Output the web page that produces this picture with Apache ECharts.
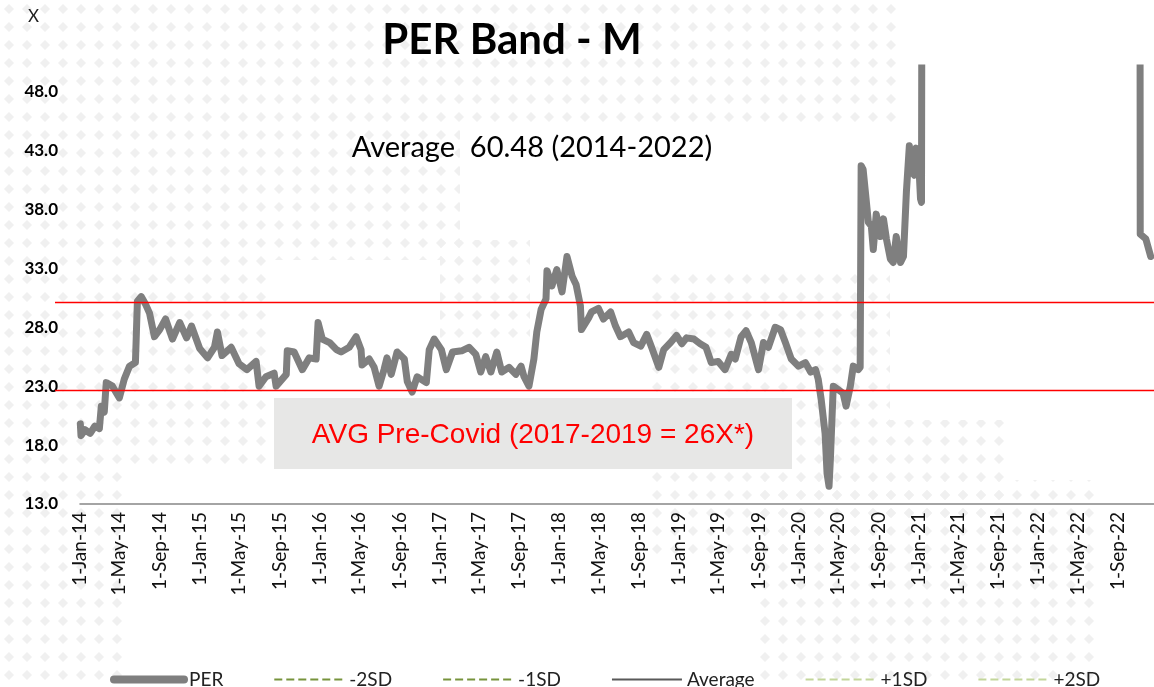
<!DOCTYPE html>
<html>
<head>
<meta charset="utf-8">
<title>PER Band - M</title>
<script src="https://cdn.jsdelivr.net/npm/echarts@6/dist/echarts.min.js"></script>
<style>
  html, body { margin: 0; padding: 0; background: #fff; }
  #chart { width: 1154px; height: 687px; }
</style>
</head>
<body>
<div id="chart"></div>
<script>
// PER daily series
var perDates = [
  '2014-01-02','2014-01-04','2014-01-16','2014-02-01','2014-02-15','2014-03-01','2014-03-07','2014-03-16','2014-03-22','2014-04-10',
  '2014-05-01','2014-05-16','2014-06-01','2014-06-19','2014-06-25','2014-07-07','2014-07-19','2014-08-01','2014-08-16','2014-09-01',
  '2014-09-19','2014-10-10','2014-11-01','2014-11-22','2014-12-07','2015-01-01','2015-01-25','2015-02-15','2015-02-24','2015-03-10',
  '2015-04-07','2015-05-01','2015-05-25','2015-06-22','2015-07-01','2015-07-22','2015-08-16','2015-08-22','2015-09-22','2015-09-25',
  '2015-10-16','2015-11-10','2015-12-01','2015-12-22','2015-12-28','2016-01-10','2016-02-01','2016-02-22','2016-03-07','2016-04-01',
  '2016-04-22','2016-05-07','2016-05-10','2016-06-01','2016-06-16','2016-07-01','2016-07-16','2016-07-25','2016-08-07','2016-08-25',
  '2016-09-16','2016-09-25','2016-10-10','2016-10-25','2016-11-22','2016-12-01','2016-12-16','2017-01-07','2017-01-22','2017-02-10',
  '2017-03-10','2017-04-01','2017-04-22','2017-05-07','2017-05-22','2017-06-07','2017-06-25','2017-07-10','2017-08-01','2017-08-22',
  '2017-09-07','2017-09-16','2017-10-01','2017-10-16','2017-10-25','2017-11-07','2017-11-22','2017-11-25','2017-12-10','2017-12-25',
  '2018-01-10','2018-01-25','2018-02-10','2018-02-22','2018-03-07','2018-03-10','2018-04-01','2018-04-10','2018-05-01','2018-05-16',
  '2018-06-07','2018-06-22','2018-07-07','2018-08-01','2018-08-16','2018-09-07','2018-09-25','2018-10-10','2018-11-01','2018-11-16',
  '2018-12-07','2018-12-25','2019-01-10','2019-01-25','2019-02-16','2019-03-07','2019-03-25','2019-04-10','2019-05-01','2019-05-22',
  '2019-06-10','2019-06-22','2019-07-10','2019-07-25','2019-08-10','2019-09-01','2019-09-16','2019-10-01','2019-10-22','2019-11-07',
  '2019-11-22','2019-12-10','2020-01-01','2020-01-22','2020-02-07','2020-02-22','2020-03-01','2020-03-10','2020-03-22','2020-03-28',
  '2020-04-03','2020-04-07','2020-04-16','2020-05-01','2020-05-16','2020-05-25','2020-06-07','2020-06-16','2020-07-01','2020-07-07',
  '2020-07-10','2020-07-16','2020-07-25','2020-08-01','2020-08-10','2020-08-16','2020-08-25','2020-09-07','2020-09-16','2020-09-25',
  '2020-10-07','2020-10-16','2020-10-25','2020-11-07','2020-11-16','2020-11-25','2020-12-04','2020-12-10','2020-12-19','2020-12-25',
  '2021-01-01','2021-01-07','2021-01-10','2021-01-12','2022-11-07','2022-11-08','2022-11-25','2022-12-10'
];
var perValues = [
  19.8, 18.8, 19.3, 19.0, 19.6, 19.4, 21.3, 20.8, 23.3, 23.0,
  22.0, 23.6, 24.7, 25.0, 30.2, 30.6, 30.0, 29.2, 27.2, 27.8,
  28.7, 27.0, 28.4, 27.1, 28.1, 26.2, 25.4, 26.3, 27.6, 25.6,
  26.3, 24.9, 24.4, 25.1, 23.0, 23.8, 24.1, 23.0, 24.0, 26.0,
  25.9, 24.4, 25.4, 25.3, 28.4, 27.0, 26.7, 26.1, 25.9, 26.3,
  27.2, 26.1, 24.8, 25.3, 24.6, 23.0, 24.4, 25.4, 24.0, 25.9,
  25.3, 23.4, 22.5, 23.8, 23.3, 26.1, 27.0, 26.1, 24.4, 25.9,
  26.0, 26.3, 25.7, 24.2, 25.5, 24.2, 25.9, 24.2, 24.6, 24.0,
  24.7, 23.8, 23.0, 25.3, 27.6, 29.5, 30.4, 32.8, 31.5, 32.9,
  31.0, 34.0, 32.3, 31.6, 29.8, 27.8, 28.8, 29.3, 29.6, 28.7,
  29.3, 28.1, 27.2, 27.6, 26.7, 26.4, 27.4, 26.3, 24.6, 26.1,
  26.7, 27.3, 26.6, 27.1, 27.0, 26.6, 26.3, 25.0, 25.1, 24.4,
  25.7, 25.3, 27.2, 27.7, 26.7, 24.4, 26.7, 26.3, 28.0, 27.8,
  26.7, 25.3, 24.7, 25.0, 24.2, 24.4, 23.6, 21.9, 19.0, 15.6,
  14.5, 16.7, 23.0, 22.7, 22.4, 21.3, 23.0, 24.7, 24.4, 24.6,
  41.7, 41.4, 38.9, 36.9, 36.6, 34.6, 37.6, 35.7, 37.2, 35.5,
  33.8, 33.5, 35.7, 33.5, 34.0, 39.5, 43.4, 41.4, 40.9, 43.2,
  42.3, 38.9, 38.6, 70.0, 70.0, 35.9, 35.5, 34.0
];
var averageValue = 60.48;
var averageRange = ['2014-01-01', '2022-12-20'];
var preCovidBand = [22.7, 30.1];
var tickLabelDates = [
  '2014-01-01','2014-05-01','2014-09-01','2015-01-01','2015-05-01','2015-09-01','2016-01-01','2016-05-01','2016-09-01',
  '2017-01-01','2017-05-01','2017-09-01','2018-01-01','2018-05-01','2018-09-01','2019-01-01','2019-05-01','2019-09-01',
  '2020-01-01','2020-05-01','2020-09-01','2021-01-01','2021-05-01','2021-09-01','2022-01-01','2022-05-01','2022-09-01'
];
var monthNames = ['Jan','Feb','Mar','Apr','May','Jun','Jul','Aug','Sep','Oct','Nov','Dec'];

function toTime(s) {
  var p = s.split('-');
  return new Date(+p[0], +p[1] - 1, +p[2]).getTime();
}
function fmtDate(v) {
  var d = new Date(v);
  return d.getDate() + '-' + monthNames[d.getMonth()] + '-' + String(d.getFullYear()).slice(2);
}

var perData = perDates.map(function (d, i) { return [toTime(d), perValues[i]]; });
var avgData = averageRange.map(function (d) { return [toTime(d), averageValue]; });
var tickTimes = tickLabelDates.map(toTime);

// faint diamond dots of the backdrop map
var tile = document.createElement('canvas');
tile.width = 18; tile.height = 18;
var tc = tile.getContext('2d');
tc.fillStyle = '#f0f0f0';
tc.beginPath(); tc.moveTo(9, 4); tc.lineTo(14, 9); tc.lineTo(9, 14); tc.lineTo(4, 9); tc.closePath(); tc.fill();
var dotAreas = [
  [0, 0, 900, 130], [0, 130, 130, 557], [130, 130, 330, 130], [130, 260, 140, 210],
  [440, 240, 90, 100], [650, 270, 240, 290], [760, 480, 340, 207], [880, 420, 130, 100]
];

var myChart = echarts.init(document.getElementById('chart'));
var font = 'Lato';

var option = {
  backgroundColor: '#fff',
  animation: false,
  grid: { left: 80, right: 0, top: 68, bottom: 183 },
  xAxis: {
    type: 'value',
    min: toTime(averageRange[0]),
    max: toTime(averageRange[1]),
    axisLine: { show: true, lineStyle: { color: '#868686', width: 1.5 } },
    axisTick: { show: false },
    splitLine: { show: false },
    axisLabel: {
      customValues: tickTimes,
      rotate: 90,
      margin: 8,
      fontFamily: font,
      fontSize: 19,
      color: '#111',
      formatter: fmtDate
    }
  },
  yAxis: {
    type: 'value',
    min: 13,
    max: 50,
    interval: 5,
    axisLine: { show: false },
    axisTick: { show: false },
    splitLine: { show: false },
    axisLabel: {
      showMaxLabel: false,
      margin: 22,
      fontFamily: font,
      fontSize: 17,
      fontWeight: 'bold',
      color: '#000',
      formatter: function (v) { return v.toFixed(1); }
    }
  },
  legend: {
    left: 105,
    top: 665,
    itemWidth: 70,
    itemHeight: 20,
    itemGap: 50,
    itemStyle: { opacity: 0 },
    textStyle: { fontFamily: font, fontSize: 19, color: '#222' },
    data: [
      { name: 'PER', lineStyle: { width: 8, cap: 'round' } },
      '-2SD', '-1SD', 'Average', '+1SD', '+2SD'
    ]
  },
  series: [
    {
      name: 'PER', type: 'line', symbol: 'none', data: perData, z: 3,
      lineStyle: { color: '#7f7f7f', width: 7, cap: 'round', join: 'round' },
      itemStyle: { color: '#7f7f7f' }
    },
    {
      name: '-2SD', type: 'line', symbol: 'none', data: [],
      lineStyle: { color: '#77933c', width: 1.5, type: 'dashed' }, itemStyle: { color: '#77933c' }
    },
    {
      name: '-1SD', type: 'line', symbol: 'none', data: [],
      lineStyle: { color: '#77933c', width: 1.5, type: 'dashed' }, itemStyle: { color: '#77933c' }
    },
    {
      name: 'Average', type: 'line', symbol: 'none', data: avgData,
      lineStyle: { color: '#595959', width: 2 }, itemStyle: { color: '#595959' }
    },
    {
      name: '+1SD', type: 'line', symbol: 'none', data: [],
      lineStyle: { color: '#c3d69b', width: 1.5, type: 'dashed' }, itemStyle: { color: '#c3d69b' }
    },
    {
      name: '+2SD', type: 'line', symbol: 'none', data: [],
      lineStyle: { color: '#c3d69b', width: 1.5, type: 'dashed' }, itemStyle: { color: '#c3d69b' }
    }
  ]
};
myChart.setOption(option);

// backdrop, texts, box and the red pre-covid lines (they run a little left of the plot)
var dotGraphics = dotAreas.map(function (a) {
  return { type: 'rect', z: -10, silent: true, shape: { x: a[0], y: a[1], width: a[2], height: a[3] }, style: { fill: { image: tile, repeat: 'repeat' } } };
});
var bandGraphics = preCovidBand.map(function (v) {
  var y = Math.round(myChart.convertToPixel({ yAxisIndex: 0 }, v)) + 0.5;
  return { type: 'line', z: 10, shape: { x1: 55, y1: y, x2: 1154, y2: y }, style: { stroke: '#ff0000', lineWidth: 1.5 } };
});
myChart.setOption({
  graphic: dotGraphics.concat(bandGraphics, [
    { type: 'text', left: 28, top: 8, style: { text: 'X', fontFamily: font, fontSize: 17, fill: '#222' } },
    { type: 'text', x: 512, y: 40, style: { text: 'PER Band - M', fontFamily: font, fontSize: 42, fontWeight: 'bold', fill: '#000', align: 'center', verticalAlign: 'middle' } },
    { type: 'text', x: 532, y: 148, style: { text: 'Average  60.48 (2014-2022)', fontFamily: font, fontSize: 29, fill: '#000', align: 'center', verticalAlign: 'middle' } },
    { type: 'rect', z: 5, shape: { x: 274, y: 398, width: 518, height: 71 }, style: { fill: '#e7e7e6' } },
    { type: 'text', z: 6, x: 533, y: 435, style: { text: 'AVG Pre-Covid (2017-2019 = 26X*)', fontFamily: 'Liberation Sans', fontSize: 28, fill: '#ff0000', align: 'center', verticalAlign: 'middle' } }
  ])
});
</script>
</body>
</html>
